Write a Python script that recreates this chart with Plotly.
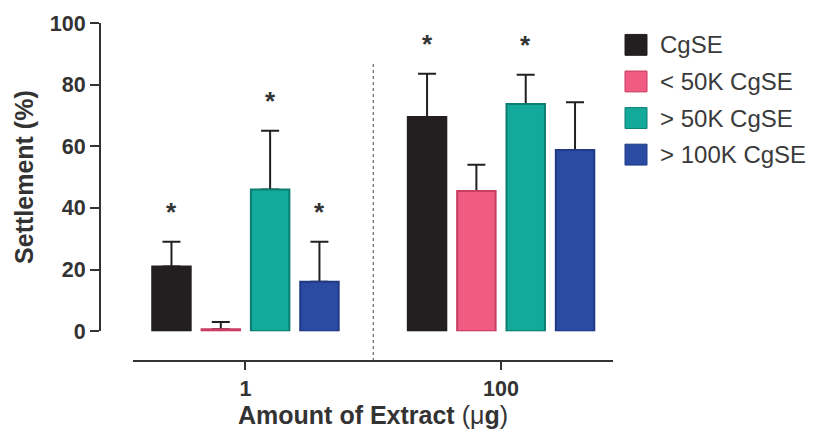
import plotly.graph_objects as go

# Settlement data (% of larvae) by extract amount
doses = ["1", "100"]
series_names = ["CgSE", "< 50K CgSE", "> 50K CgSE", "> 100K CgSE"]
means = {
    "CgSE": [21.0, 69.5],
    "< 50K CgSE": [0.6, 45.5],
    "> 50K CgSE": [46.0, 73.7],
    "> 100K CgSE": [16.0, 58.8],
}
errors = {
    "CgSE": [8.0, 14.0],
    "< 50K CgSE": [2.4, 8.5],
    "> 50K CgSE": [19.0, 9.5],
    "> 100K CgSE": [13.0, 15.5],
}
significant = {
    "CgSE": [True, True],
    "< 50K CgSE": [False, False],
    "> 50K CgSE": [True, True],
    "> 100K CgSE": [True, False],
}
fill_colors = {
    "CgSE": "#231f20",
    "< 50K CgSE": "#ef5b81",
    "> 50K CgSE": "#13aa9b",
    "> 100K CgSE": "#2b4aa2",
}
edge_colors = {
    "CgSE": "#231f20",
    "< 50K CgSE": "#c83d62",
    "> 50K CgSE": "#0d7d72",
    "> 100K CgSE": "#213a85",
}

FONT = "Liberation Sans, Arial, sans-serif"
INK = "#333333"
BARGAP = 0.228
GROUPGAP = 0.22

fig = go.Figure()
for name in series_names:
    # Upper error bars on transparent bars in the base subplot
    fig.add_trace(go.Bar(
        x=doses, y=means[name], offsetgroup=name, xaxis="x", yaxis="y",
        marker=dict(color="rgba(0,0,0,0)", line=dict(width=0)),
        error_y=dict(type="data", symmetric=False, array=errors[name],
                     arrayminus=[0] * len(doses), color="#231f20", thickness=2, width=9),
        showlegend=False, hoverinfo="skip",
    ))
for name in series_names:
    # Visible bars on an overlaid axis so they sit above the lower caps
    fig.add_trace(go.Bar(
        x=doses, y=means[name], name=name, offsetgroup=name, xaxis="x2", yaxis="y",
        marker=dict(color=fill_colors[name], line=dict(color=edge_colors[name], width=2)),
        showlegend=False,
    ))

# Significance asterisks above the error bars
slot = (1 - BARGAP) / len(series_names)
annotations = []
for i, name in enumerate(series_names):
    for g, flag in enumerate(significant[name]):
        if flag:
            annotations.append(dict(
                x=g + (i - (len(series_names) - 1) / 2) * slot,
                y=means[name][g] + errors[name][g] + 12,
                xref="x", yref="y", text="<b>*</b>", showarrow=False,
                font=dict(family=FONT, size=26, color=INK), yshift=-7,
            ))

# Legend drawn as large swatches with labels
L_MARGIN, T_MARGIN, B_MARGIN, R_MARGIN = 100, 21, 74, 205
W, H = 818, 435
pw, ph = W - L_MARGIN - R_MARGIN, H - T_MARGIN - B_MARGIN


def px_x(p):
    return (p - L_MARGIN) / pw


def px_y(p):
    return (H - B_MARGIN - p) / ph


shapes = []
for k, name in enumerate(series_names):
    cy = 43 + k * 36.8
    shapes.append(dict(type="rect", xref="paper", yref="paper",
                       x0=px_x(625), x1=px_x(647), y0=px_y(cy + 10.5), y1=px_y(cy - 10.5),
                       fillcolor=fill_colors[name], line=dict(color=edge_colors[name], width=1)))
    annotations.append(dict(x=px_x(658), y=px_y(cy), xref="paper", yref="paper",
                            xanchor="left", yanchor="middle", text=name, showarrow=False,
                            font=dict(family=FONT, size=24, color="#3a3a3a")))

# Dashed divider between dose groups
shapes.append(dict(type="line", xref="x", yref="paper", x0=0.5, x1=0.5,
                   y0=0.0, y1=px_y(62), line=dict(color="#444444", width=1, dash="dot")))

x_domain = [px_x(133), 1]
x_range = [-0.44, 1.438]

fig.update_layout(
    width=W, height=H,
    margin=dict(l=L_MARGIN, r=R_MARGIN, t=T_MARGIN, b=B_MARGIN),
    paper_bgcolor="white", plot_bgcolor="white",
    barmode="group", bargap=BARGAP, bargroupgap=GROUPGAP,
    font=dict(family=FONT, color=INK),
    annotations=annotations, shapes=shapes,
    xaxis=dict(type="category", anchor="free", position=0,
               domain=x_domain, range=x_range,
               showline=True, linecolor=INK, linewidth=2,
               ticks="outside", ticklen=8, tickwidth=2, tickcolor=INK,
               tickfont=dict(family=FONT, size=21.5, color=INK, weight="bold"),
               showgrid=False, zeroline=False,
               title=dict(text="<b>Amount of Extract </b>(μ<b>g</b>)",
                          font=dict(family=FONT, size=25, color=INK), standoff=4)),
    xaxis2=dict(type="category", overlaying="x", anchor="free", position=0,
                domain=x_domain, range=x_range, categoryorder="array", categoryarray=doses,
                showline=False, showticklabels=False, ticks="",
                showgrid=False, zeroline=False),
    yaxis=dict(anchor="free", position=0, domain=[px_y(331), 1], range=[0, 100],
               dtick=20, showline=True, linecolor=INK, linewidth=2,
               ticks="outside", ticklen=9, tickwidth=2, tickcolor=INK,
               tickfont=dict(family=FONT, size=21.5, color=INK, weight="bold"),
               showgrid=False, zeroline=False,
               title=dict(text="<b>Settlement (%)</b>",
                          font=dict(family=FONT, size=25, color=INK), standoff=8)),
)

fig.write_html("out.html")
